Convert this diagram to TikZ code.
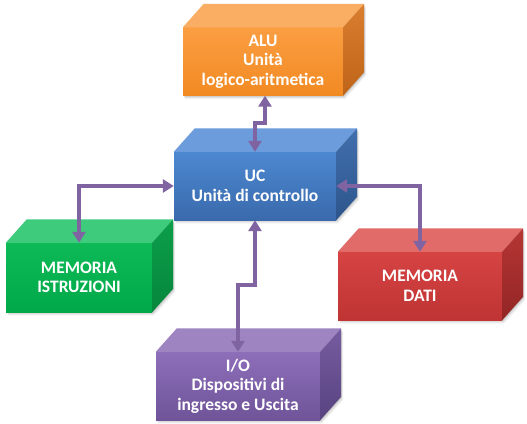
\documentclass[tikz,border=0pt]{standalone}
\usepackage{fontspec}
\setmainfont{Carlito}
\usetikzlibrary{arrows.meta}
\definecolor{or-top}{HTML}{FAAE63}
\definecolor{or-f1}{HTML}{FA9E42}
\definecolor{or-f2}{HTML}{F28A22}
\definecolor{or-s1}{HTML}{DA7E30}
\definecolor{or-s2}{HTML}{BE6418}
\definecolor{bl-top}{HTML}{6C9CDB}
\definecolor{bl-f1}{HTML}{4C88D0}
\definecolor{bl-f2}{HTML}{3A6AAC}
\definecolor{bl-s1}{HTML}{416FAD}
\definecolor{bl-s2}{HTML}{2D558C}
\definecolor{gr-top}{HTML}{3ECB7C}
\definecolor{gr-f1}{HTML}{0DBA56}
\definecolor{gr-f2}{HTML}{00A849}
\definecolor{gr-s1}{HTML}{0C9F4A}
\definecolor{gr-s2}{HTML}{06863C}
\definecolor{rd-top}{HTML}{E16B69}
\definecolor{rd-f1}{HTML}{D64343}
\definecolor{rd-f2}{HTML}{BF3434}
\definecolor{rd-s1}{HTML}{B53634}
\definecolor{rd-s2}{HTML}{932525}
\definecolor{pu-top}{HTML}{9E85C2}
\definecolor{pu-f1}{HTML}{8D6FB9}
\definecolor{pu-f2}{HTML}{6F5499}
\definecolor{pu-s1}{HTML}{755CA0}
\definecolor{pu-s2}{HTML}{594380}
\definecolor{arrowpurple}{HTML}{8064A2}
\tikzset{
  cubefront/.style={rectangle, inner sep=0pt, text=white, align=center,
    font=\fontsize{17.5}{19.5}\selectfont\bfseries},
  conn/.style={draw=arrowpurple, line width=4pt,
    {Triangle[width=13pt,length=11pt]}-{Triangle[width=13pt,length=11pt]}},
}
% #1 name, #2 cx, #3 cy, #4 width, #5 height, #6 colour prefix, #7 text
\newcommand\cubo[7]{%
  \foreach \s/\o in {1/0.10, 2/0.08, 3/0.05}{%
    \fill[black, opacity=\o, shift={(\s*0.7,\s*1.2)}]
      (#2-#4/2, #3+#5/2) -- (#2-#4/2, #3-#5/2) -- ++(21,-23.5) -- ++(#4,0)
      -- ++(0,#5) -- ++(-21,23.5) -- cycle;
  }
  \node[cubefront, minimum width=#4pt, minimum height=#5pt,
        top color=#6-f1, bottom color=#6-f2] (#1) at (#2,#3) {#7};
  \fill[#6-top] (#1.north west) -- (#1.north east) -- ++(21,-23.5)
     -- ([shift={(21,-23.5)}]#1.north west) -- cycle;
  \shade[top color=#6-s1, bottom color=#6-s2] (#1.north east) -- ++(21,-23.5)
     -- ([shift={(21,-23.5)}]#1.south east) -- (#1.south east) -- cycle;
}
\begin{document}
\begin{tikzpicture}[x=1pt,y=-1pt]
\fill[white] (0,0) rectangle (527,423);
\useasboundingbox (0,0) rectangle (527,423);
\cubo{alu}{263}{61.5}{160}{68}{or}{ALU\\Unità\\logico-aritmetica}
\cubo{uc}{255}{186}{162}{68}{bl}{UC\\Unità di controllo}
\cubo{mi}{79}{277.5}{146}{69}{gr}{MEMORIA\\ISTRUZIONI}
\cubo{md}{420}{286}{164}{68}{rd}{MEMORIA\\DATI}
\cubo{io}{238}{386}{164}{68}{pu}{I/O\\Dispositivi di\\ingresso e Uscita}
\draw[conn] ([xshift=2pt]alu.south) -- ++(0,27) -| (uc.north);
\draw[conn] (uc.west) -| (mi.north);
\draw[conn] (uc.east) -| (md.north);
\draw[conn] (uc.south) -- ++(0,65) -| (io.north);
\end{tikzpicture}
\end{document}
